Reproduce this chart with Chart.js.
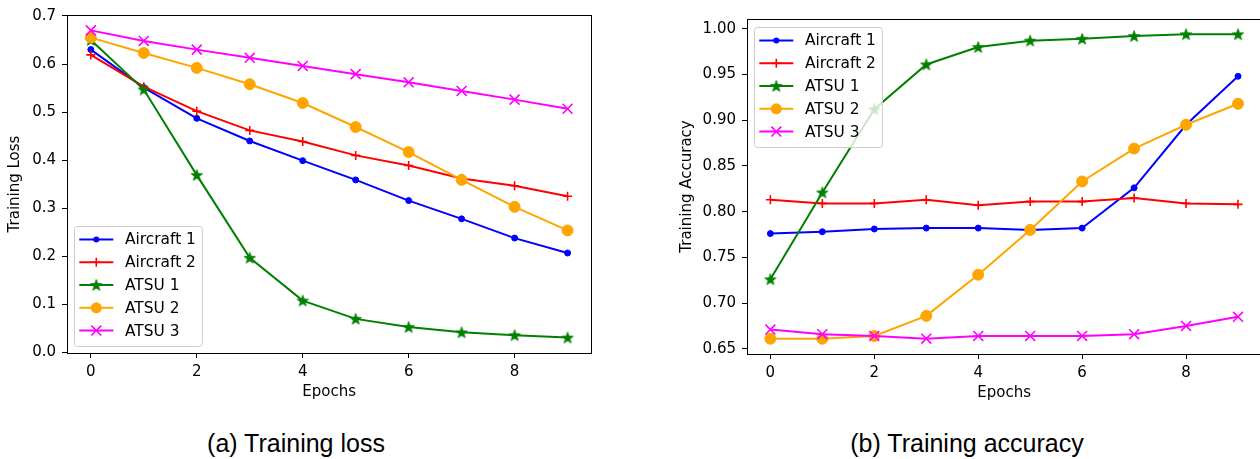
<!DOCTYPE html>
<html><head><meta charset="utf-8">
<script src="https://cdn.jsdelivr.net/npm/chart.js@4/dist/chart.umd.min.js"></script>
<style>
html,body{margin:0;padding:0;width:1260px;height:459px;overflow:hidden;background:#fff;}
#c1{position:absolute;left:0;top:0;}
#c2{position:absolute;left:660px;top:0;}
.cap{position:absolute;width:400px;text-align:center;font-family:'Liberation Sans',Arial,sans-serif;font-size:25px;line-height:25px;top:431px;color:#000;white-space:nowrap;}
</style></head><body>
<canvas id="c1" width="600" height="401"></canvas>
<canvas id="c2" width="610" height="402"></canvas>
<div class="cap" style="left:96px">(a) Training loss</div>
<div class="cap" style="left:767px">(b) Training accuracy</div>
<script>
const epochs = [0, 1, 2, 3, 4, 5, 6, 7, 8, 9];
const seriesNames = ['Aircraft 1', 'Aircraft 2', 'ATSU 1', 'ATSU 2', 'ATSU 3'];
const seriesColors = ['#0000ff', '#ff0000', '#008000', '#ffa500', '#ff00ff'];

const lossAircraft1 = [0.630, 0.551, 0.487, 0.440, 0.399, 0.359, 0.316, 0.278, 0.238, 0.207];
const lossAircraft2 = [0.619, 0.553, 0.502, 0.462, 0.439, 0.410, 0.389, 0.362, 0.347, 0.325];
const lossATSU1     = [0.650, 0.547, 0.369, 0.197, 0.108, 0.070, 0.053, 0.042, 0.036, 0.031];
const lossATSU2     = [0.655, 0.623, 0.592, 0.558, 0.519, 0.469, 0.417, 0.359, 0.303, 0.254];
const lossATSU3     = [0.670, 0.648, 0.630, 0.613, 0.596, 0.579, 0.562, 0.544, 0.526, 0.507];

const accAircraft1 = [0.776, 0.778, 0.781, 0.782, 0.782, 0.780, 0.782, 0.826, 0.895, 0.948];
const accAircraft2 = [0.813, 0.809, 0.809, 0.813, 0.807, 0.811, 0.811, 0.815, 0.809, 0.808];
const accATSU1     = [0.726, 0.821, 0.912, 0.961, 0.980, 0.987, 0.989, 0.992, 0.994, 0.994];
const accATSU2     = [0.661, 0.661, 0.664, 0.686, 0.731, 0.780, 0.833, 0.869, 0.895, 0.918];
const accATSU3     = [0.671, 0.666, 0.664, 0.661, 0.664, 0.664, 0.664, 0.666, 0.675, 0.685];

const xTicks = [0, 2, 4, 6, 8];
const lossTicks = [0.0, 0.1, 0.2, 0.3, 0.4, 0.5, 0.6, 0.7];
const accTicks = [0.65, 0.70, 0.75, 0.80, 0.85, 0.90, 0.95, 1.00];

Chart.defaults.font.family = '"DejaVu Sans", sans-serif';
Chart.defaults.font.size = 15;
Chart.defaults.color = '#000';

function makeStar(color) {
  const c = document.createElement('canvas');
  const s = 14; c.width = s; c.height = s;
  const g = c.getContext('2d');
  const cx = s / 2, cy = s / 2 + 0.5, R = 6, r = 2.5;
  g.beginPath();
  for (let k = 0; k < 10; k++) {
    const rad = k % 2 ? r : R;
    const a = -Math.PI / 2 + k * Math.PI / 5;
    g.lineTo(cx + rad * Math.cos(a), cy + rad * Math.sin(a));
  }
  g.closePath();
  g.fillStyle = color; g.fill();
  g.strokeStyle = color; g.lineWidth = 0.8; g.stroke();
  return c;
}
const starImg = makeStar('#008000');
const markerStyles = [
  { pointStyle: 'circle', radius: 3, bw: 1 },
  { pointStyle: 'cross', radius: 4.5, bw: 1.6 },
  { pointStyle: starImg, radius: 5, bw: 1 },
  { pointStyle: 'circle', radius: 5.5, bw: 1 },
  { pointStyle: 'crossRot', radius: 7, bw: 1.6 }
];

function buildDatasets(seriesList) {
  return seriesList.map((vals, i) => ({
    label: seriesNames[i],
    data: vals.map((v, k) => ({ x: epochs[k], y: v })),
    borderColor: seriesColors[i],
    backgroundColor: seriesColors[i],
    pointBackgroundColor: seriesColors[i],
    pointBorderColor: seriesColors[i],
    borderWidth: 2,
    pointStyle: markerStyles[i].pointStyle,
    pointRadius: markerStyles[i].radius,
    pointBorderWidth: markerStyles[i].bw,
    tension: 0,
    order: seriesList.length - 1 - i
  }));
}

function drawMarker(ctx, m, color, x, y) {
  ctx.save();
  ctx.fillStyle = color; ctx.strokeStyle = color; ctx.lineWidth = m.bw;
  const r = m.radius;
  if (typeof m.pointStyle === 'object') {
    ctx.drawImage(m.pointStyle, x - m.pointStyle.width / 2, y - m.pointStyle.height / 2);
  } else if (m.pointStyle === 'circle') {
    ctx.beginPath(); ctx.arc(x, y, r, 0, Math.PI * 2); ctx.fill();
  } else if (m.pointStyle === 'cross') {
    ctx.beginPath(); ctx.moveTo(x - r, y); ctx.lineTo(x + r, y); ctx.moveTo(x, y - r); ctx.lineTo(x, y + r); ctx.stroke();
  } else if (m.pointStyle === 'crossRot') {
    const d = r * Math.SQRT1_2;
    ctx.beginPath(); ctx.moveTo(x - d, y - d); ctx.lineTo(x + d, y + d); ctx.moveTo(x - d, y + d); ctx.lineTo(x + d, y - d); ctx.stroke();
  }
  ctx.restore();
}

const framePlugin = {
  id: 'frame',
  beforeDatasetsDraw(chart) {
    const a = chart.chartArea, ctx = chart.ctx;
    ctx.save();
    ctx.strokeStyle = '#000'; ctx.lineWidth = 1;
    ctx.strokeRect(Math.round(a.left) + 0.5, Math.round(a.top) + 0.5, Math.round(a.right - a.left), Math.round(a.bottom - a.top));
    ctx.restore();
  }
};

const legendPlugin = {
  id: 'mplLegend',
  afterDatasetsDraw(chart, args, opts) {
    const ctx = chart.ctx, a = chart.chartArea;
    ctx.save();
    ctx.font = '15.4px "DejaVu Sans"';
    const tw = Math.max(...seriesNames.map(n => ctx.measureText(n).width));
    const w = 51 + tw + 6, h = 120;
    const x = Math.round(a.left + opts.dx);
    const y = Math.round(opts.anchor === 'bottom' ? a.bottom - opts.dy - h : a.top + opts.dy);
    ctx.beginPath();
    ctx.roundRect(x + 0.5, y + 0.5, w, h, 3);
    ctx.fillStyle = 'rgba(255,255,255,0.8)'; ctx.fill();
    ctx.strokeStyle = '#cccccc'; ctx.lineWidth = 1; ctx.stroke();
    seriesNames.forEach((name, i) => {
      const cy = y + 13.4 + i * 22.8;
      ctx.strokeStyle = seriesColors[i]; ctx.lineWidth = 2;
      ctx.beginPath(); ctx.moveTo(x + 5.3, cy); ctx.lineTo(x + 39.3, cy); ctx.stroke();
      drawMarker(ctx, markerStyles[i], seriesColors[i], x + 22.3, cy);
      ctx.fillStyle = '#000'; ctx.textBaseline = 'middle'; ctx.textAlign = 'left';
      ctx.fillText(name, x + 51, cy + 1);
    });
    ctx.restore();
  }
};

function makeChart(canvasId, seriesList, cfg) {
  return new Chart(document.getElementById(canvasId), {
    type: 'line',
    data: { datasets: buildDatasets(seriesList) },
    plugins: [framePlugin, legendPlugin],
    options: {
      responsive: false,
      animation: false,
      devicePixelRatio: 1,
      events: [],
      layout: { padding: { left: 0, top: cfg.top, right: cfg.right, bottom: 0 } },
      plugins: {
        legend: { display: false },
        tooltip: { enabled: false },
        mplLegend: cfg.legend
      },
      scales: {
        x: {
          type: 'linear', min: -0.45, max: 9.45,
          afterBuildTicks: s => { s.ticks = xTicks.map(v => ({ value: v })); },
          afterFit: s => { s.height = cfg.xHeight; },
          ticks: { padding: 5, color: '#000', font: { size: 15 }, callback: v => String(v), maxRotation: 0, autoSkip: false },
          grid: { display: true, drawOnChartArea: false, drawTicks: true, tickLength: 5, color: '#000', lineWidth: 1 },
          border: { display: false },
          title: { display: true, text: 'Epochs', color: '#000', font: { size: 15 }, padding: { top: 0, bottom: 0 } }
        },
        y: {
          type: 'linear', min: cfg.yMin, max: cfg.yMax,
          afterBuildTicks: s => { s.ticks = cfg.yTicks.map(v => ({ value: v })); },
          afterFit: s => { s.width = cfg.yWidth; },
          ticks: { padding: 6, color: '#000', font: { size: 15 }, callback: v => Number(v).toFixed(cfg.dec), autoSkip: false },
          grid: { display: true, drawOnChartArea: false, drawTicks: true, tickLength: 5, color: '#000', lineWidth: 1 },
          border: { display: false },
          title: { display: true, text: cfg.yTitle, color: '#000', font: { size: 15 }, padding: { top: cfg.yTitlePad, bottom: 0 } }
        }
      }
    }
  });
}

makeChart('c1', [lossAircraft1, lossAircraft2, lossATSU1, lossATSU2, lossATSU3], {
  top: 13, right: 8, xHeight: 48, yWidth: 67,
  yMin: -0.001, yMax: 0.702, yTicks: lossTicks, dec: 1,
  yTitle: 'Training Loss', yTitlePad: 6.5,
  legend: { anchor: 'bottom', dx: 7, dy: 7 }
});

makeChart('c2', [accAircraft1, accAircraft2, accATSU1, accATSU2, accATSU3], {
  top: 19, right: 8, xHeight: 48, yWidth: 87,
  yMin: 0.6443, yMax: 1.0107, yTicks: accTicks, dec: 2,
  yTitle: 'Training Accuracy', yTitlePad: 18,
  legend: { anchor: 'top', dx: 7, dy: 8 }
});
</script>
</body></html>
